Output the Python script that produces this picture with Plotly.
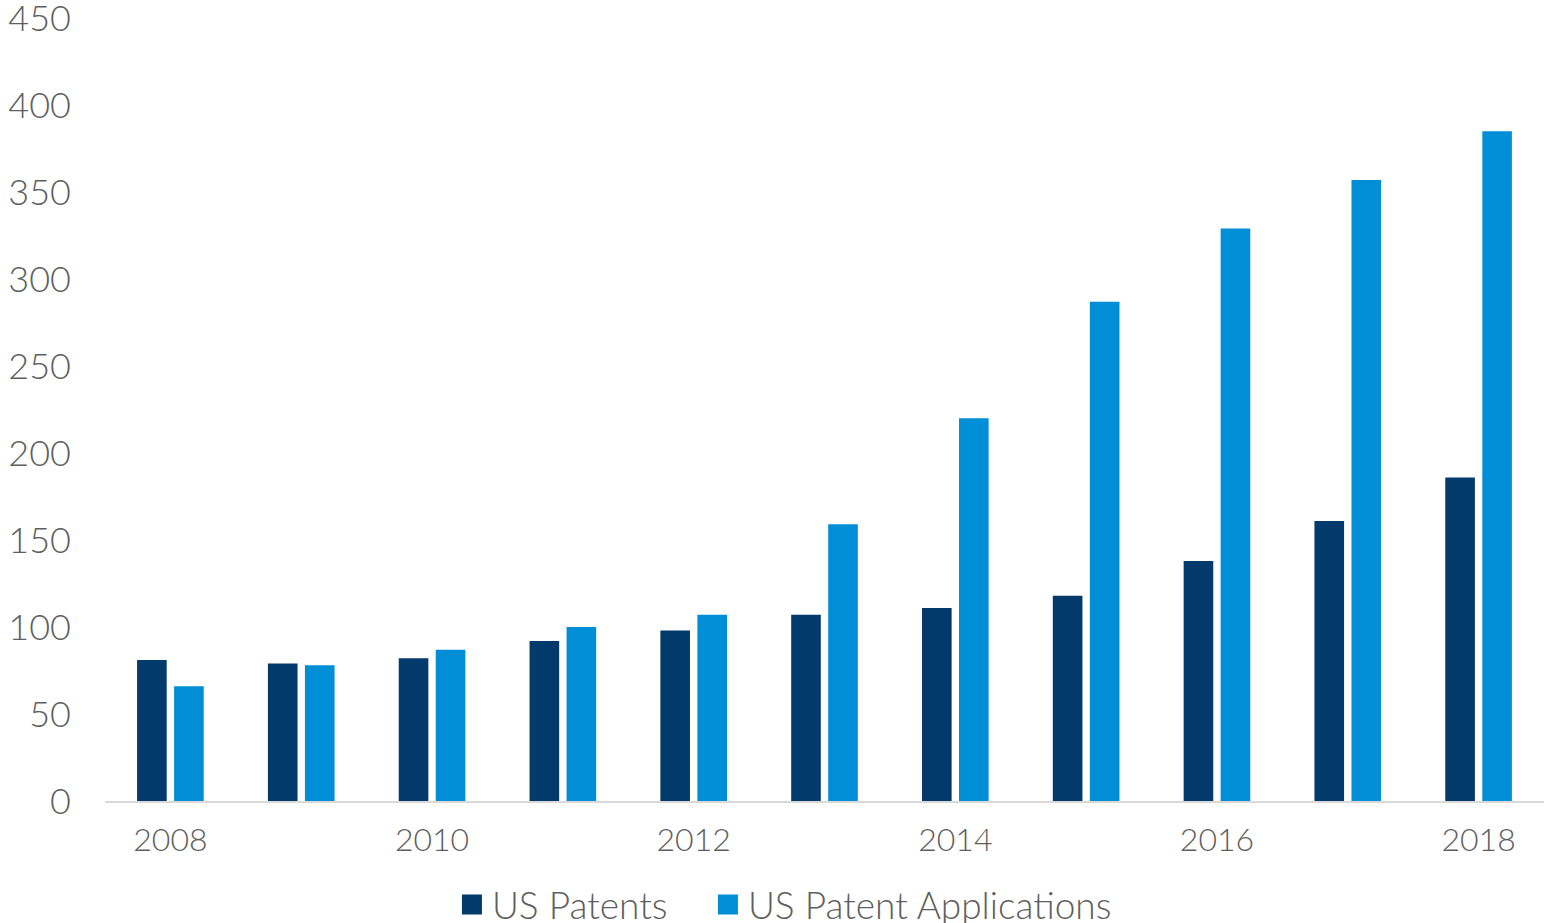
import plotly.graph_objects as go

years = [2008, 2009, 2010, 2011, 2012, 2013, 2014, 2015, 2016, 2017, 2018]
us_patents = [81, 79, 82, 92, 98, 107, 111, 118, 138, 161, 186]
us_patent_applications = [66, 78, 87, 100, 107, 159, 220, 287, 329, 357, 385]
x_tick_years = [2008, 2010, 2012, 2014, 2016, 2018]
y_ticks = [0, 50, 100, 150, 200, 250, 300, 350, 400, 450]

navy = "#013A6B"
blue = "#008FD6"
text_grey = "#5E5E5E"
font_family = "Lato, 'Open Sans', sans-serif"

fig = go.Figure()
fig.add_trace(go.Bar(x=years, y=us_patents, name="US Patents",
                     marker=dict(color=navy, line=dict(width=0)), showlegend=False))
fig.add_trace(go.Bar(x=years, y=us_patent_applications, name="US Patent Applications",
                     marker=dict(color=blue, line=dict(width=0)), showlegend=False))

# Legend entries with larger square swatches, one legend box per entry
for name, color, lg in [("US Patents", navy, "legend"),
                        ("US Patent Applications", blue, "legend2")]:
    fig.add_trace(go.Scatter(x=[None], y=[None], mode="markers", name=name, legend=lg,
                             marker=dict(symbol="square", size=16, color=color,
                                         line=dict(color=color, width=4))))

legend_common = dict(orientation="h", xref="container", yref="container",
                     xanchor="left", y=0.0195, yanchor="middle",
                     font=dict(size=37, color=text_grey, weight=300), itemwidth=30)

fig.update_layout(
    width=1544, height=923,
    margin=dict(l=105, r=0, t=18, b=122),
    paper_bgcolor="white", plot_bgcolor="white",
    barmode="group", bargap=0.434, bargroupgap=0.2,
    font=dict(family=font_family, color=text_grey, weight=300),
    legend=dict(x=0.2927, **legend_common),
    legend2=dict(x=0.4585, **legend_common),
    showlegend=True,
)
fig.update_xaxes(
    range=[2007.5, 2018.5], tickvals=x_tick_years, ticktext=[str(y) for y in x_tick_years],
    showgrid=False, zeroline=False, showline=True, linecolor="#D9D9D9", linewidth=2,
    ticks="", ticklabelstandoff=10, automargin=False,
    tickfont=dict(size=32, color=text_grey, family=font_family, weight=300),
)
fig.update_yaxes(
    range=[0, 450.05], tickvals=y_ticks, showgrid=False, zeroline=False, showline=False,
    ticks="", ticklabelstandoff=33, ticklabeloverflow="allow", automargin=False,
    tickfont=dict(size=36, color=text_grey, family=font_family, weight=300),
)

fig.write_html("out.html")
